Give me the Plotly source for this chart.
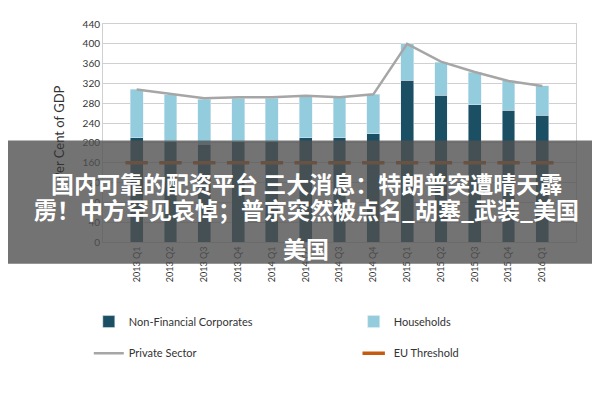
import plotly.graph_objects as go

quarters = ['2013 Q1', '2013 Q2', '2013 Q3', '2013 Q4', '2014 Q1', '2014 Q2', '2014 Q3',
            '2014 Q4', '2015 Q1', '2015 Q2', '2015 Q3', '2015 Q4', '2016 Q1']
non_financial = [210, 203, 197, 202, 203, 210, 210, 218, 326, 296, 277, 266, 256]
households = [98, 94, 91, 88, 87, 83, 82, 80, 74, 67, 66, 59, 59]
private_sector = [308, 299, 290, 292, 292, 295, 292, 298, 400, 364, 343, 325, 315]
eu_threshold = [160] * 13

fig = go.Figure()
fig.add_bar(x=quarters, y=non_financial, name='Non-Financial Corporates', marker_color='#1b4f63',
            width=0.38, legend='legend', showlegend=True)
fig.add_bar(x=quarters, y=households, name='Households', marker_color='#93cddd',
            width=0.38, legend='legend2', showlegend=True)
fig.add_scatter(x=quarters, y=private_sector, name='Private Sector', mode='lines',
                line=dict(color='#a6a6a6', width=2.5), legend='legend3', showlegend=True)
fig.add_scatter(x=quarters, y=eu_threshold, name='EU Threshold', mode='markers',
                marker=dict(symbol='line-ew', size=16, line=dict(color='#c55a11', width=3.5)),
                legend='legend4', showlegend=True)

leg = dict(xanchor='left', yanchor='middle', font=dict(size=11), bgcolor='rgba(0,0,0,0)')
fig.update_layout(
    width=600, height=400, barmode='stack', showlegend=True,
    margin=dict(l=95, r=32, t=16, b=166, autoexpand=False),
    paper_bgcolor='white', plot_bgcolor='white',
    font=dict(family='Lato', size=10, color='#333'),
    legend=dict(x=-0.03, y=-0.365, **leg),
    legend2=dict(x=0.53, y=-0.365, **leg),
    legend3=dict(x=-0.03, y=-0.51, **leg),
    legend4=dict(x=0.53, y=-0.51, **leg),
    yaxis=dict(range=[0, 440], dtick=40, gridcolor='#d0d0d0', showline=True, linecolor='#d0d0d0',
               mirror=True, title=dict(text='Per Cent of GDP', font=dict(size=13)), ticks=''),
    xaxis=dict(tickangle=-90, showline=True, linecolor='#d0d0d0', mirror=True, tickfont=dict(size=9)),
)

# overlay banner
fig.add_shape(type='rect', xref='paper', yref='paper', x0=-0.21, x1=1.08, y0=-0.1, y1=0.466,
              fillcolor='rgba(80,80,80,0.8)', line_width=0, layer='above')
banner = ['国内可靠的配资平台 三大消息：特朗普突遭晴天霹', '雳！中方罕见哀悼；普京突然被点名_胡塞_武装_美国', '美国']
for txt, yy in zip(banner, [0.183, 0.066, -0.114]):
    fig.add_annotation(text='<b>' + txt + '</b>', xref='paper', yref='paper', x=0.43, y=yy,
                       showarrow=False, font=dict(family='Noto Sans CJK SC', size=23, color='white'))

fig.write_html('out.html')
